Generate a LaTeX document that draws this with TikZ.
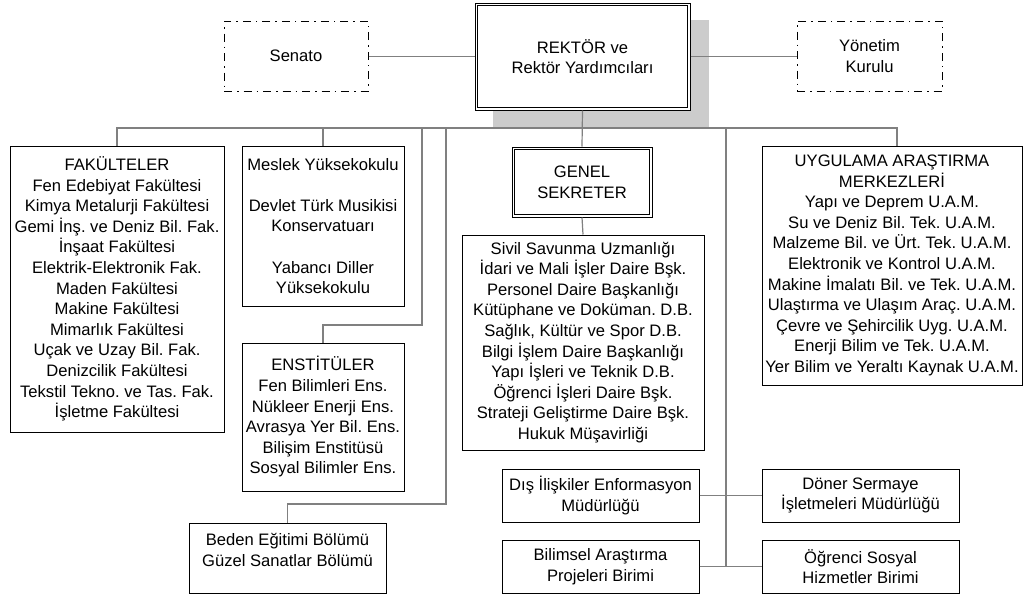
\documentclass[tikz,border=0pt]{standalone}
\usepackage{fontspec}
\setmainfont{Liberation Sans}
\frenchspacing
\newcommand{\orgfont}{\fontsize{16.6}{20.6}\selectfont}
\begin{document}
\begin{tikzpicture}[x=1pt,y=-1pt,
  unit/.style={draw=black, line width=1pt, fill=white, align=center, inner sep=0pt, font=\orgfont},
  board/.style={unit, dash pattern=on 8pt off 5pt on 1.5pt off 5pt},
  innerframe/.style={draw=black, line width=1.8pt},
  link/.style={draw=black!50, line width=1.2pt},
  shade/.style={fill=black!20}]
\useasboundingbox (0,0) rectangle (1026,598);

% shadow behind the rector box
\fill[shade] (493,20) rectangle (709,127);

% top level
\node[unit, minimum width=215pt, minimum height=107pt] (rek) at (582.5,56.5) {REKTÖR ve\\Rektör Yardımcıları};
\draw[innerframe] ([shift={(3pt,-3pt)}]rek.north west) rectangle ([shift={(-3pt,3pt)}]rek.south east);
\node[board, minimum width=144pt, minimum height=70pt] (sen) at (296,56) {Senato};
\node[board, minimum width=145pt, minimum height=70pt] (yon) at (869.5,56) {Yönetim\\Kurulu};

% academic units
\node[unit, minimum width=214pt, minimum height=286pt] (fak) at (117,289)
  {FAKÜLTELER\\Fen Edebiyat Fakültesi\\Kimya Metalurji Fakültesi\\Gemi İnş. ve Deniz Bil. Fak.\\İnşaat Fakültesi\\Elektrik-Elektronik Fak.\\Maden Fakültesi\\Makine Fakültesi\\Mimarlık Fakültesi\\Uçak ve Uzay Bil. Fak.\\Denizcilik Fakültesi\\Tekstil Tekno. ve Tas. Fak.\\İşletme Fakültesi};
\node[unit, minimum width=162pt, minimum height=160pt] (mes) at (323,226)
  {Meslek Yüksekokulu\\[20.6pt]Devlet Türk Musikisi\\Konservatuarı\\[20.6pt]Yabancı Diller\\Yüksekokulu};
\node[unit, minimum width=162pt, minimum height=148pt] (ens) at (323,417)
  {ENSTİTÜLER\\Fen Bilimleri Ens.\\Nükleer Enerji Ens.\\Avrasya Yer Bil. Ens.\\Bilişim Enstitüsü\\Sosyal Bilimler Ens.};
\node[unit, minimum width=197pt, minimum height=70pt, text depth=16pt] (bed) at (287.5,558)
  {Beden Eğitimi Bölümü\\Güzel Sanatlar Bölümü};

% administration
\node[unit, minimum width=140pt, minimum height=70pt] (gen) at (582,182) {GENEL\\SEKRETER};
\draw[innerframe] ([shift={(3pt,-3pt)}]gen.north west) rectangle ([shift={(-3pt,3pt)}]gen.south east);
\node[unit, minimum width=242pt, minimum height=215pt] (dai) at (583,342.5)
  {Sivil Savunma Uzmanlığı\\İdari ve Mali İşler Daire Bşk.\\Personel Daire Başkanlığı\\Kütüphane ve Doküman. D.B.\\Sağlık, Kültür ve Spor D.B.\\Bilgi İşlem Daire Başkanlığı\\Yapı İşleri ve Teknik D.B.\\Öğrenci İşleri Daire Bşk.\\Strateji Geliştirme Daire Bşk.\\Hukuk Müşavirliği};
\node[unit, minimum width=197pt, minimum height=53pt] (dis) at (600.5,495.5) {Dış İlişkiler Enformasyon\\Müdürlüğü};
\node[unit, minimum width=197pt, minimum height=53pt] (bil) at (600.5,566.5) {Bilimsel Araştırma\\Projeleri Birimi};
\node[unit, minimum width=197pt, minimum height=53pt] (don) at (860.5,495.5) {Döner Sermaye\\İşletmeleri Müdürlüğü};
\node[unit, minimum width=197pt, minimum height=53pt] (ogr) at (860.5,566.5) {Öğrenci Sosyal\\Hizmetler Birimi};

% research centres
\node[unit, minimum width=260pt, minimum height=239pt] (uam) at (892,265.5)
  {UYGULAMA ARAŞTIRMA\\MERKEZLERİ\\Yapı ve Deprem U.A.M.\\Su ve Deniz Bil. Tek. U.A.M.\\Malzeme Bil. ve Ürt. Tek. U.A.M.\\Elektronik ve Kontrol U.A.M.\\Makine İmalatı Bil. ve Tek. U.A.M.\\Ulaştırma ve Ulaşım Araç. U.A.M.\\Çevre ve Şehircilik Uyg. U.A.M.\\Enerji Bilim ve Tek. U.A.M.\\Yer Bilim ve Yeraltı Kaynak U.A.M.};

% bus and bend points
\coordinate (busL) at (117,128);
\coordinate (busR) at (897,128);
\coordinate (ensbend) at (422,325);
\coordinate (bedbend) at (446,504);
\coordinate (spine) at (726,128);

% connectors
\draw[link] (sen.east |- rek.west) -- (rek.west);
\draw[link] (rek.east) -- (yon.west |- rek.east);
\draw[link] (rek.south) -- (gen.north);
\draw[link] (gen.south) -- (dai.north);
\draw[link] (fak.north) -- (busL) -- (busR) -- (busR |- uam.north);
\draw[link] (mes.north) -- (mes.north |- busL);
\draw[link] (ens.north) |- (ensbend) -- (ensbend |- busL);
\draw[link] (bed.north) |- (bedbend) -- (bedbend |- busL);
\draw[link] (spine) -- (spine |- bil.east);
\draw[link] (dis.east) -- (don.west);
\draw[link] (bil.east) -- (ogr.west);
\end{tikzpicture}
\end{document}
